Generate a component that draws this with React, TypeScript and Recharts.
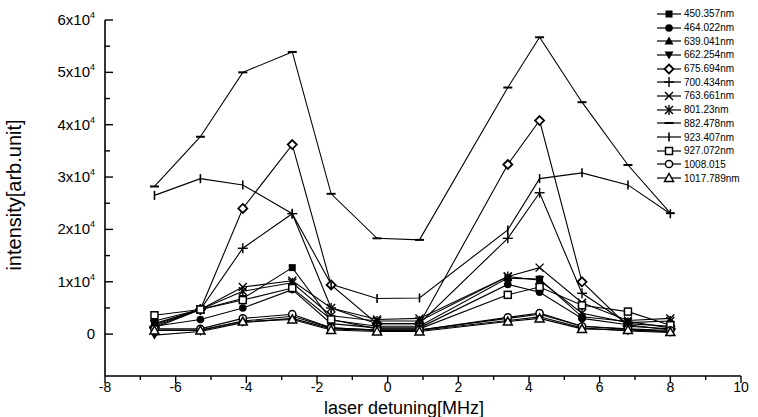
import React from "react"
import { LineChart, Line, XAxis, YAxis } from "recharts"

// detuning positions (MHz)
const detuning = [-6.6, -5.3, -4.1, -2.7, -1.6, -0.3, 0.9, 3.4, 4.3, 5.5, 6.8, 8.0]

// intensity per wavelength (arb. unit)
const s450 = [2500, 4700, 6800, 12700, 2700, 1500, 1500, 10700, 10500, 3300, 2400, 1200]
const s464 = [1500, 2800, 5000, 8500, 2000, 1200, 1200, 9500, 8000, 3000, 1800, 800]
const s639 = [800, 800, 2500, 3400, 1200, 800, 800, 3000, 3800, 1500, 900, 500]
const s662 = [-200, 500, 2200, 3000, 1000, 700, 700, 2600, 3300, 1200, 600, 300]
const s675 = [1200, 4700, 24000, 36200, 9400, 2000, 2000, 32400, 40800, 10000, 1500, 1000]
const s700 = [1500, 4700, 16400, 23000, 5000, 2000, 2000, 18300, 27000, 7800, 2000, 1500]
const s763 = [2000, 4700, 9000, 10200, 5000, 2800, 3000, 11000, 12700, 6000, 2600, 3000]
const s801 = [1800, 4700, 8200, 9800, 3500, 2500, 2500, 11000, 10300, 4000, 2200, 2500]
const s882 = [28200, 37700, 50000, 53900, 26800, 18300, 18000, 47100, 56700, 44300, 32300, 23100]
const s923 = [26500, 29700, 28500, 23000, 9500, 6800, 6900, 19900, 29700, 30800, 28500, 23000]
const s927 = [3600, 4700, 6500, 8800, 2800, 1000, 1000, 7500, 9000, 5500, 4300, 1700]
const s1008 = [1000, 1000, 3000, 3800, 1200, 800, 800, 3200, 4000, 1500, 1000, 700]
const s1017 = [700, 700, 2400, 2800, 800, 500, 500, 2400, 3000, 1000, 800, 400]

const xTicks = [-8, -7, -6, -5, -4, -3, -2, -1, 0, 1, 2, 3, 4, 5, 6, 7, 8, 9, 10]
const yTicks = [0, 5000, 10000, 15000, 20000, 25000, 30000, 35000, 40000, 45000, 50000, 55000, 60000]

type Shape =
  | "square" | "circle" | "tri" | "triDown" | "diamond" | "plus" | "cross"
  | "star" | "hdash" | "vbar" | "oSquare" | "oCircle" | "oTri"

const series: { key: string; name: string; shape: Shape; values: number[] }[] = [
  { key: "s450", name: "450.357nm", shape: "square", values: s450 },
  { key: "s464", name: "464.022nm", shape: "circle", values: s464 },
  { key: "s639", name: "639.041nm", shape: "tri", values: s639 },
  { key: "s662", name: "662.254nm", shape: "triDown", values: s662 },
  { key: "s675", name: "675.694nm", shape: "diamond", values: s675 },
  { key: "s700", name: "700.434nm", shape: "plus", values: s700 },
  { key: "s763", name: "763.661nm", shape: "cross", values: s763 },
  { key: "s801", name: "801.23nm", shape: "star", values: s801 },
  { key: "s882", name: "882.478nm", shape: "hdash", values: s882 },
  { key: "s923", name: "923.407nm", shape: "vbar", values: s923 },
  { key: "s927", name: "927.072nm", shape: "oSquare", values: s927 },
  { key: "s1008", name: "1008.015", shape: "oCircle", values: s1008 },
  { key: "s1017", name: "1017.789nm", shape: "oTri", values: s1017 },
]

const data = detuning.map((x, i) => {
  const row: Record<string, number> = { x }
  series.forEach((s) => (row[s.key] = s.values[i]))
  return row
})

const FONT = "'Liberation Sans', Arial, sans-serif"

function marker(shape: Shape, cx: number, cy: number, k?: string) {
  const sw = 1.4
  switch (shape) {
    case "square":
      return <rect key={k} x={cx - 3.5} y={cy - 3.5} width={7} height={7} fill="#000" />
    case "circle":
      return <circle key={k} cx={cx} cy={cy} r={3.8} fill="#000" />
    case "tri":
      return <polygon key={k} points={`${cx},${cy - 4.5} ${cx + 4.5},${cy + 3.5} ${cx - 4.5},${cy + 3.5}`} fill="#000" />
    case "triDown":
      return <polygon key={k} points={`${cx},${cy + 4.5} ${cx + 4.5},${cy - 3.5} ${cx - 4.5},${cy - 3.5}`} fill="#000" />
    case "diamond":
      return <polygon key={k} points={`${cx},${cy - 4.5} ${cx + 4.5},${cy} ${cx},${cy + 4.5} ${cx - 4.5},${cy}`} fill="#fff" stroke="#000" strokeWidth={1.8} />
    case "plus":
      return (
        <g key={k} stroke="#000" strokeWidth={sw}>
          <line x1={cx - 5} x2={cx + 5} y1={cy} y2={cy} />
          <line x1={cx} x2={cx} y1={cy - 5} y2={cy + 5} />
        </g>
      )
    case "cross":
      return (
        <g key={k} stroke="#000" strokeWidth={sw}>
          <line x1={cx - 4} x2={cx + 4} y1={cy - 4} y2={cy + 4} />
          <line x1={cx - 4} x2={cx + 4} y1={cy + 4} y2={cy - 4} />
        </g>
      )
    case "star":
      return (
        <g key={k} stroke="#000" strokeWidth={sw}>
          <line x1={cx - 4} x2={cx + 4} y1={cy - 4} y2={cy + 4} />
          <line x1={cx - 4} x2={cx + 4} y1={cy + 4} y2={cy - 4} />
          <line x1={cx} x2={cx} y1={cy - 5} y2={cy + 5} />
        </g>
      )
    case "hdash":
      return <line key={k} x1={cx - 4.5} x2={cx + 4.5} y1={cy} y2={cy} stroke="#000" strokeWidth={2} />
    case "vbar":
      return <line key={k} x1={cx} x2={cx} y1={cy - 4.5} y2={cy + 4.5} stroke="#000" strokeWidth={1.6} />
    case "oSquare":
      return <rect key={k} x={cx - 3.5} y={cy - 3.5} width={7} height={7} fill="#fff" stroke="#000" strokeWidth={1.5} />
    case "oCircle":
      return <circle key={k} cx={cx} cy={cy} r={3.6} fill="#fff" stroke="#000" strokeWidth={1.5} />
    case "oTri":
      return <polygon key={k} points={`${cx},${cy - 4.5} ${cx + 4.5},${cy + 3.5} ${cx - 4.5},${cy + 3.5}`} fill="#fff" stroke="#000" strokeWidth={1.5} />
  }
}

const XTick = (props: any) => {
  const { x, y, payload } = props
  const v = payload.value as number
  const major = v % 2 === 0
  return (
    <g>
      <line x1={x} x2={x} y1={y} y2={y + (major ? 7 : 4)} stroke="#000" strokeWidth={1.4} />
      {major && (
        <text x={x} y={y + 16} textAnchor="middle" fontSize={14} fontFamily={FONT} fill="#000">
          {v}
        </text>
      )}
    </g>
  )
}

const YTick = (props: any) => {
  const { x, y, payload } = props
  const v = payload.value as number
  const major = v % 10000 === 0
  return (
    <g>
      <line x1={x} x2={x + (major ? 8 : 5)} y1={y} y2={y} stroke="#000" strokeWidth={1.4} />
      {major && (
        <text x={x - 10} y={y + 5} textAnchor="end" fontSize={15} fontFamily={FONT} fill="#000">
          {v === 0 ? "0" : `${v / 10000}x10`}
          {v !== 0 && (
            <tspan dy={-7} fontSize={9}>
              4
            </tspan>
          )}
        </text>
      )}
    </g>
  )
}

function LegendBox() {
  return (
    <div style={{ position: "absolute", left: 655, top: 7, fontFamily: FONT, fontSize: 10, color: "#000" }}>
      {series.map((s) => (
        <div key={s.key} style={{ display: "flex", alignItems: "center", height: 13.7 }}>
          <svg width={28} height={12}>
            <line x1={2} x2={26} y1={6} y2={6} stroke="#000" strokeWidth={1.2} />
            {marker(s.shape, 14, 6)}
          </svg>
          <span style={{ marginLeft: 1, whiteSpace: "nowrap" }}>{s.name}</span>
        </div>
      ))}
    </div>
  )
}

export default function App() {
  return (
    <div style={{ position: "absolute", left: 0, top: 0, width: 758, height: 417, background: "#fff" }}>
      <LineChart width={758} height={417} data={data} margin={{ top: 20, right: 17, bottom: 1, left: 25 }}>
        <XAxis
          dataKey="x"
          type="number"
          domain={[-8, 10]}
          ticks={xTicks}
          interval={0}
          tickSize={0}
          tickMargin={0}
          tick={<XTick />}
          axisLine={{ stroke: "#000", strokeWidth: 1.6 }}
          height={40}
        />
        <YAxis
          type="number"
          domain={[-8000, 60000]}
          ticks={yTicks}
          interval={0}
          tickSize={0}
          tickMargin={0}
          tick={<YTick />}
          axisLine={{ stroke: "#000", strokeWidth: 1.6 }}
          width={80}
        />
        {series.map((s) => (
          <Line
            key={s.key}
            dataKey={s.key}
            name={s.name}
            stroke="#000"
            strokeWidth={1.1}
            isAnimationActive={false}
            dot={(p: any) => marker(s.shape, p.cx, p.cy, `${s.key}-${p.index}`) as any}
            activeDot={false}
          />
        ))}
      </LineChart>
      <div
        style={{
          position: "absolute",
          left: 14,
          top: 195,
          transform: "translate(-50%, -50%) rotate(-90deg)",
          fontFamily: FONT,
          fontSize: 20,
          whiteSpace: "nowrap",
          color: "#000",
        }}
      >
        intensity[arb.unit]
      </div>
      <div
        style={{
          position: "absolute",
          left: 404,
          top: 408,
          transform: "translate(-50%, -50%)",
          fontFamily: FONT,
          fontSize: 18,
          lineHeight: "18px",
          whiteSpace: "nowrap",
          color: "#000",
        }}
      >
        laser detuning[MHz]
      </div>
      <LegendBox />
    </div>
  )
}
